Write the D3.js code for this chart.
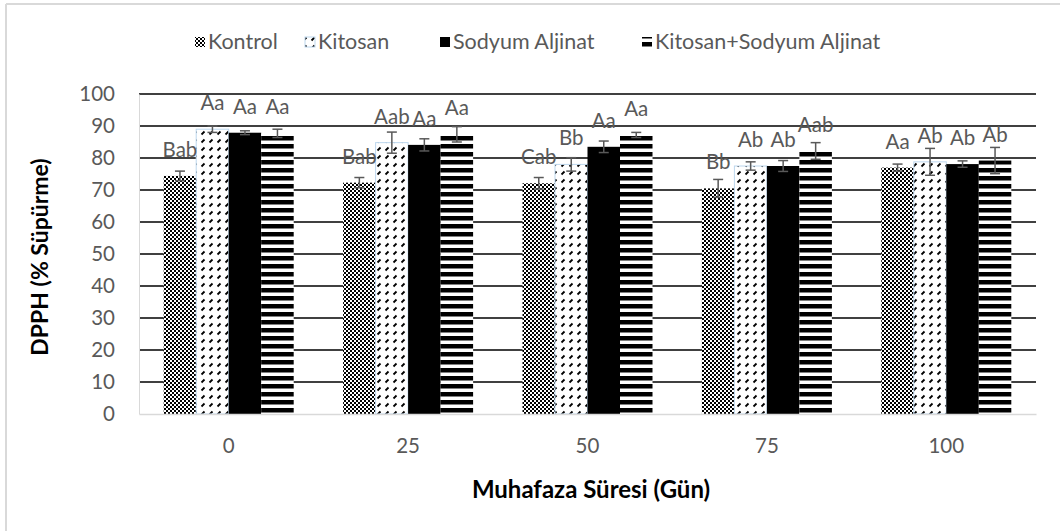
<!DOCTYPE html>
<html>
<head>
<meta charset="utf-8">
<script src="https://d3js.org/d3.v7.min.js"></script>
<style>
  body { margin: 0; background: #fff; }
  text { font-family: Lato, "Open Sans", sans-serif; }
</style>
</head>
<body>
<svg id="chart" width="1060" height="531"></svg>
<script>
// storage days (x categories) and treatment names
var days = ["0", "25", "50", "75", "100"];
var series = ["Kontrol", "Kitosan", "Sodyum Aljinat", "Kitosan+Sodyum Aljinat"];

// DPPH values
var kontrol = [74.4, 72.3, 72.1, 70.5, 77.0];
var kitosan = [89.0, 84.8, 78.0, 77.5, 78.8];
var sodyum  = [87.9, 84.1, 83.5, 77.5, 78.1];
var kitSod  = [87.7, 87.4, 87.2, 82.2, 79.2];

// error bar half-lengths
var kontrolErr = [1.5, 1.6, 1.8, 2.8, 1.1];
var kitosanErr = [1.0, 3.3, 2.1, 1.3, 4.2];
var sodyumErr  = [0.6, 1.9, 1.8, 1.7, 1.0];
var kitSodErr  = [1.3, 2.4, 0.8, 2.6, 4.1];

// letters above the bars
var kontrolLbl = ["Bab", "Bab", "Cab", "Bb", "Aa"];
var kitosanLbl = ["Aa", "Aab", "Bb", "Ab", "Ab"];
var sodyumLbl  = ["Aa", "Aa", "Aa", "Ab", "Ab"];
var kitSodLbl  = ["Aa", "Aa", "Aa", "Aab", "Ab"];

var yTicks = [0, 10, 20, 30, 40, 50, 60, 70, 80, 90, 100];

var values = [kontrol, kitosan, sodyum, kitSod];
var errs = [kontrolErr, kitosanErr, sodyumErr, kitSodErr];
var lbls = [kontrolLbl, kitosanLbl, sodyumLbl, kitSodLbl];
var fills = ["url(#checker)", "url(#dashdiag)", "#000", "url(#hstripe)"];

var rows = [];
days.forEach(function(d, i) {
  series.forEach(function(s, j) {
    rows.push({day: d, s: s, j: j, v: values[j][i], e: errs[j][i], lbl: lbls[j][i]});
  });
});

var svg = d3.select("#chart");
var gray = "#595959";

// outer chart frame
svg.append("line").attr("x1", 6).attr("x2", 1060).attr("y1", 4).attr("y2", 4)
  .attr("stroke", "#d9d9d9").attr("stroke-width", 2);
svg.append("line").attr("x1", 6).attr("x2", 6).attr("y1", 4).attr("y2", 531)
  .attr("stroke", "#d9d9d9").attr("stroke-width", 2);

// patterns
var defs = svg.append("defs");
var p1 = defs.append("pattern").attr("id", "checker").attr("patternUnits", "userSpaceOnUse")
  .attr("width", 4).attr("height", 4);
p1.append("rect").attr("width", 4).attr("height", 4).attr("fill", "#fff");
p1.append("rect").attr("width", 2).attr("height", 2).attr("fill", "#000");
p1.append("rect").attr("x", 2).attr("y", 2).attr("width", 2).attr("height", 2).attr("fill", "#000");

var p2 = defs.append("pattern").attr("id", "dashdiag").attr("patternUnits", "userSpaceOnUse")
  .attr("width", 8).attr("height", 8);
p2.append("rect").attr("width", 8).attr("height", 8).attr("fill", "#fff");
p2.append("line").attr("x1", 1.5).attr("y1", 6.5).attr("x2", 4.5).attr("y2", 3.5)
  .attr("stroke", "#000").attr("stroke-width", 1.8);

var p3 = defs.append("pattern").attr("id", "hstripe").attr("patternUnits", "userSpaceOnUse")
  .attr("width", 8).attr("height", 8);
p3.append("rect").attr("width", 8).attr("height", 8).attr("fill", "#fff");
p3.append("rect").attr("width", 8).attr("height", 4.5).attr("fill", "#000");

var x0 = d3.scaleBand().domain(days).range([139, 1036]).padding(0);
var x1 = d3.scaleBand().domain(series).range([0, x0.bandwidth()])
  .paddingInner(0).paddingOuter(0.76);
var y = d3.scaleLinear().domain([0, 100]).range([414, 94]);

// gridlines
svg.append("g").selectAll("line")
  .data(yTicks.filter(function(t) { return t > 0; }))
  .enter().append("line")
  .attr("x1", 139).attr("x2", 1036)
  .attr("y1", function(d) { return y(d); }).attr("y2", function(d) { return y(d); })
  .attr("stroke", "#000").attr("stroke-width", 1.5);

// y axis
var axisY = d3.axisLeft(y).tickValues(yTicks).tickSize(0).tickPadding(24);
var gy = svg.append("g").attr("transform", "translate(139,0)").call(axisY);
gy.select(".domain").attr("stroke", "#d9d9d9").attr("stroke-width", 1);
gy.selectAll("text").attr("fill", gray).attr("font-size", 20.5).attr("font-family", "Lato");

// bars
var bars = svg.append("g");
bars.selectAll("rect")
  .data(rows)
  .enter().append("rect")
  .attr("x", function(d) { return x0(d.day) + x1(d.s); })
  .attr("y", function(d) { return y(d.v); })
  .attr("width", x1.bandwidth())
  .attr("height", function(d) { return y(0) - y(d.v); })
  .attr("fill", function(d) { return fills[d.j]; })
  .attr("stroke", function(d) { return d.j == 1 ? "#bdd7ee" : "none"; })
  .attr("stroke-width", 1);

// x axis
var axisX = d3.axisBottom(x0).tickSize(0).tickPadding(24);
var gx = svg.append("g").attr("transform", "translate(0,414)").call(axisX);
gx.select(".domain").attr("stroke", "#d9d9d9").attr("stroke-width", 1.5);
gx.selectAll("text").attr("fill", gray).attr("font-size", 20.5).attr("font-family", "Lato");

// error bars
var eb = svg.append("g").attr("stroke", gray).attr("stroke-width", 1.5);
rows.forEach(function(d) {
  var cx = x0(d.day) + x1(d.s) + x1.bandwidth() / 2;
  eb.append("line").attr("x1", cx).attr("x2", cx)
    .attr("y1", y(d.v - d.e)).attr("y2", y(d.v + d.e));
  eb.append("line").attr("x1", cx - 5).attr("x2", cx + 5)
    .attr("y1", y(d.v + d.e)).attr("y2", y(d.v + d.e));
  eb.append("line").attr("x1", cx - 5).attr("x2", cx + 5)
    .attr("y1", y(d.v - d.e)).attr("y2", y(d.v - d.e));
});

// data labels
svg.append("g").selectAll("text")
  .data(rows)
  .enter().append("text")
  .attr("x", function(d) { return x0(d.day) + x1(d.s) + x1.bandwidth() / 2; })
  .attr("y", function(d) { return y(d.v) - 19; })
  .attr("text-anchor", "middle")
  .attr("fill", gray).attr("font-size", 20.5)
  .text(function(d) { return d.lbl; });

// axis titles
svg.append("text").attr("x", 591).attr("y", 498).attr("text-anchor", "middle")
  .attr("font-weight", "bold").attr("font-size", 24).attr("fill", "#000")
  .text("Muhafaza Süresi (Gün)");
svg.append("text").attr("transform", "translate(48,257) rotate(-90)")
  .attr("text-anchor", "middle")
  .attr("font-weight", "bold").attr("font-size", 23).attr("fill", "#000")
  .text("DPPH (% Süpürme)");

// legend
var legX = [208, 318, 453, 655];
var leg = svg.append("g");
series.forEach(function(s, j) {
  var g = leg.append("g").attr("transform", "translate(" + legX[j] + ",42)");
  g.append("rect").attr("x", -13).attr("y", -5).attr("width", 10).attr("height", 10)
    .attr("fill", fills[j])
    .attr("stroke", j == 1 ? "#bdd7ee" : "none");
  g.append("text").attr("x", 0).attr("y", 7).attr("fill", gray).attr("font-size", 21.5)
    .text(s);
});
</script>
</body>
</html>
